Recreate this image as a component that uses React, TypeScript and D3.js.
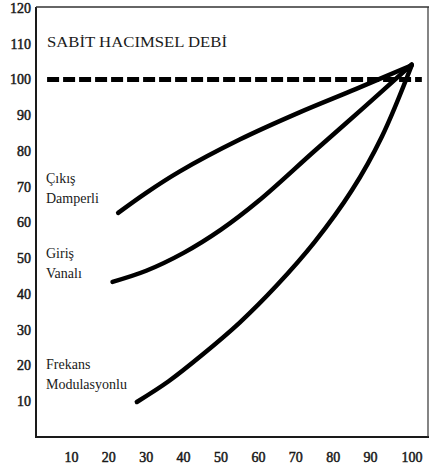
import React from "react";
import * as d3 from "d3";

const xTicks = [10, 20, 30, 40, 50, 60, 70, 80, 90, 100];
const yTicks = [10, 20, 30, 40, 50, 60, 70, 80, 90, 100, 110, 120];

// Çıkış Damperli
const outletX = [22.5, 30, 39, 55, 71, 86, 101];
const outletY = [62.7, 68.3, 74.3, 83.2, 90.8, 97.3, 104];
// Giriş Vanalı
const inletX = [21, 30, 40, 50, 60, 75, 88, 101];
const inletY = [43.4, 46.5, 51.5, 58, 66, 80, 92, 104.2];
// Frekans Modulasyonlu
const freqX = [27.5, 36, 45, 55, 65, 75, 85, 93, 101];
const freqY = [9.8, 15.6, 23, 32, 42.5, 54.5, 69, 84, 104];

const constFlowLevel = 100;
const constFlowRange = [3.5, 103.7];

const titleLabel = "SABİT HACIMSEL DEBİ";
const titleLevel = 110.5;
const curveLabels = [
  { lines: ["Çıkış", "Damperli"], y: 72.5 },
  { lines: ["Giriş", "Vanalı"], y: 51.5 },
  { lines: ["Frekans", "Modulasyonlu"], y: 20.5 },
];

export default function App() {
  const W = 430;
  const H = 466;
  const x = d3.scaleLinear().domain([0, 100]).range([34, 408]);
  const y = d3.scaleLinear().domain([0, 120]).range([437, 8]);
  const line = d3
    .line<[number, number]>()
    .x((d) => x(d[0]))
    .y((d) => y(d[1]))
    .curve(d3.curveCatmullRom.alpha(0.5));
  const series = [
    d3.zip(outletX, outletY) as [number, number][],
    d3.zip(inletX, inletY) as [number, number][],
    d3.zip(freqX, freqY) as [number, number][],
  ];
  const font = "Liberation Serif, Times New Roman, Times, serif";
  const ink = "#1a1a1a";
  return (
    <div style={{ position: "absolute", left: 0, top: 0 }}>
      <svg width={W} height={H} style={{ display: "block", background: "#fff" }}>
        {/* frame */}
        <line x1={36} x2={36} y1={7} y2={438} stroke={ink} strokeWidth={2} />
        <line x1={35} x2={429} y1={437} y2={437} stroke={ink} strokeWidth={2} />
        <line x1={36} x2={429} y1={7} y2={7} stroke="#333" strokeWidth={1.5} />
        <line x1={428} x2={428} y1={7} y2={437} stroke="#333" strokeWidth={1.2} />
        {/* y ticks */}
        {yTicks.map((t) => (
          <text
            key={"y" + t}
            x={31}
            y={y(t)}
            dy="0.35em"
            textAnchor="end"
            fontFamily={font}
            fontSize={14}
            fill={ink}
            stroke={ink}
            strokeWidth={0.5}
          >
            {t}
          </text>
        ))}
        {/* x ticks */}
        {xTicks.map((t) => (
          <text
            key={"x" + t}
            x={x(t) + (t === 100 ? 4 : 0)}
            y={457}
            dy="0.35em"
            textAnchor="middle"
            fontFamily={font}
            fontSize={14}
            fill={ink}
            stroke={ink}
            strokeWidth={0.5}
          >
            {t}
          </text>
        ))}
        {/* constant flow dashed line */}
        <line
          x1={x(constFlowRange[0])}
          x2={x(constFlowRange[1])}
          y1={y(constFlowLevel)}
          y2={y(constFlowLevel)}
          stroke="#000"
          strokeWidth={5}
          strokeDasharray="12 4"
        />
        <text
          x={47}
          y={y(titleLevel)}
          dy="0.35em"
          fontFamily={font}
          fontSize={14}
          textLength={180}
          lengthAdjust="spacingAndGlyphs"
          fill={ink}
        >
          {titleLabel}
        </text>
        {/* curves */}
        {series.map((s, i) => (
          <path
            key={"s" + i}
            d={line(s) || ""}
            fill="none"
            stroke="#000"
            strokeWidth={4.5}
            strokeLinecap="round"
            strokeLinejoin="round"
          />
        ))}
        {curveLabels.map((l, i) => (
          <text key={"c" + i} fontFamily={font} fontSize={14} fill={ink}>
            {l.lines.map((ln, j) => (
              <tspan key={j} x={46} y={y(l.y) + j * 20} dy="0.35em">
                {ln}
              </tspan>
            ))}
          </text>
        ))}
      </svg>
    </div>
  );
}
